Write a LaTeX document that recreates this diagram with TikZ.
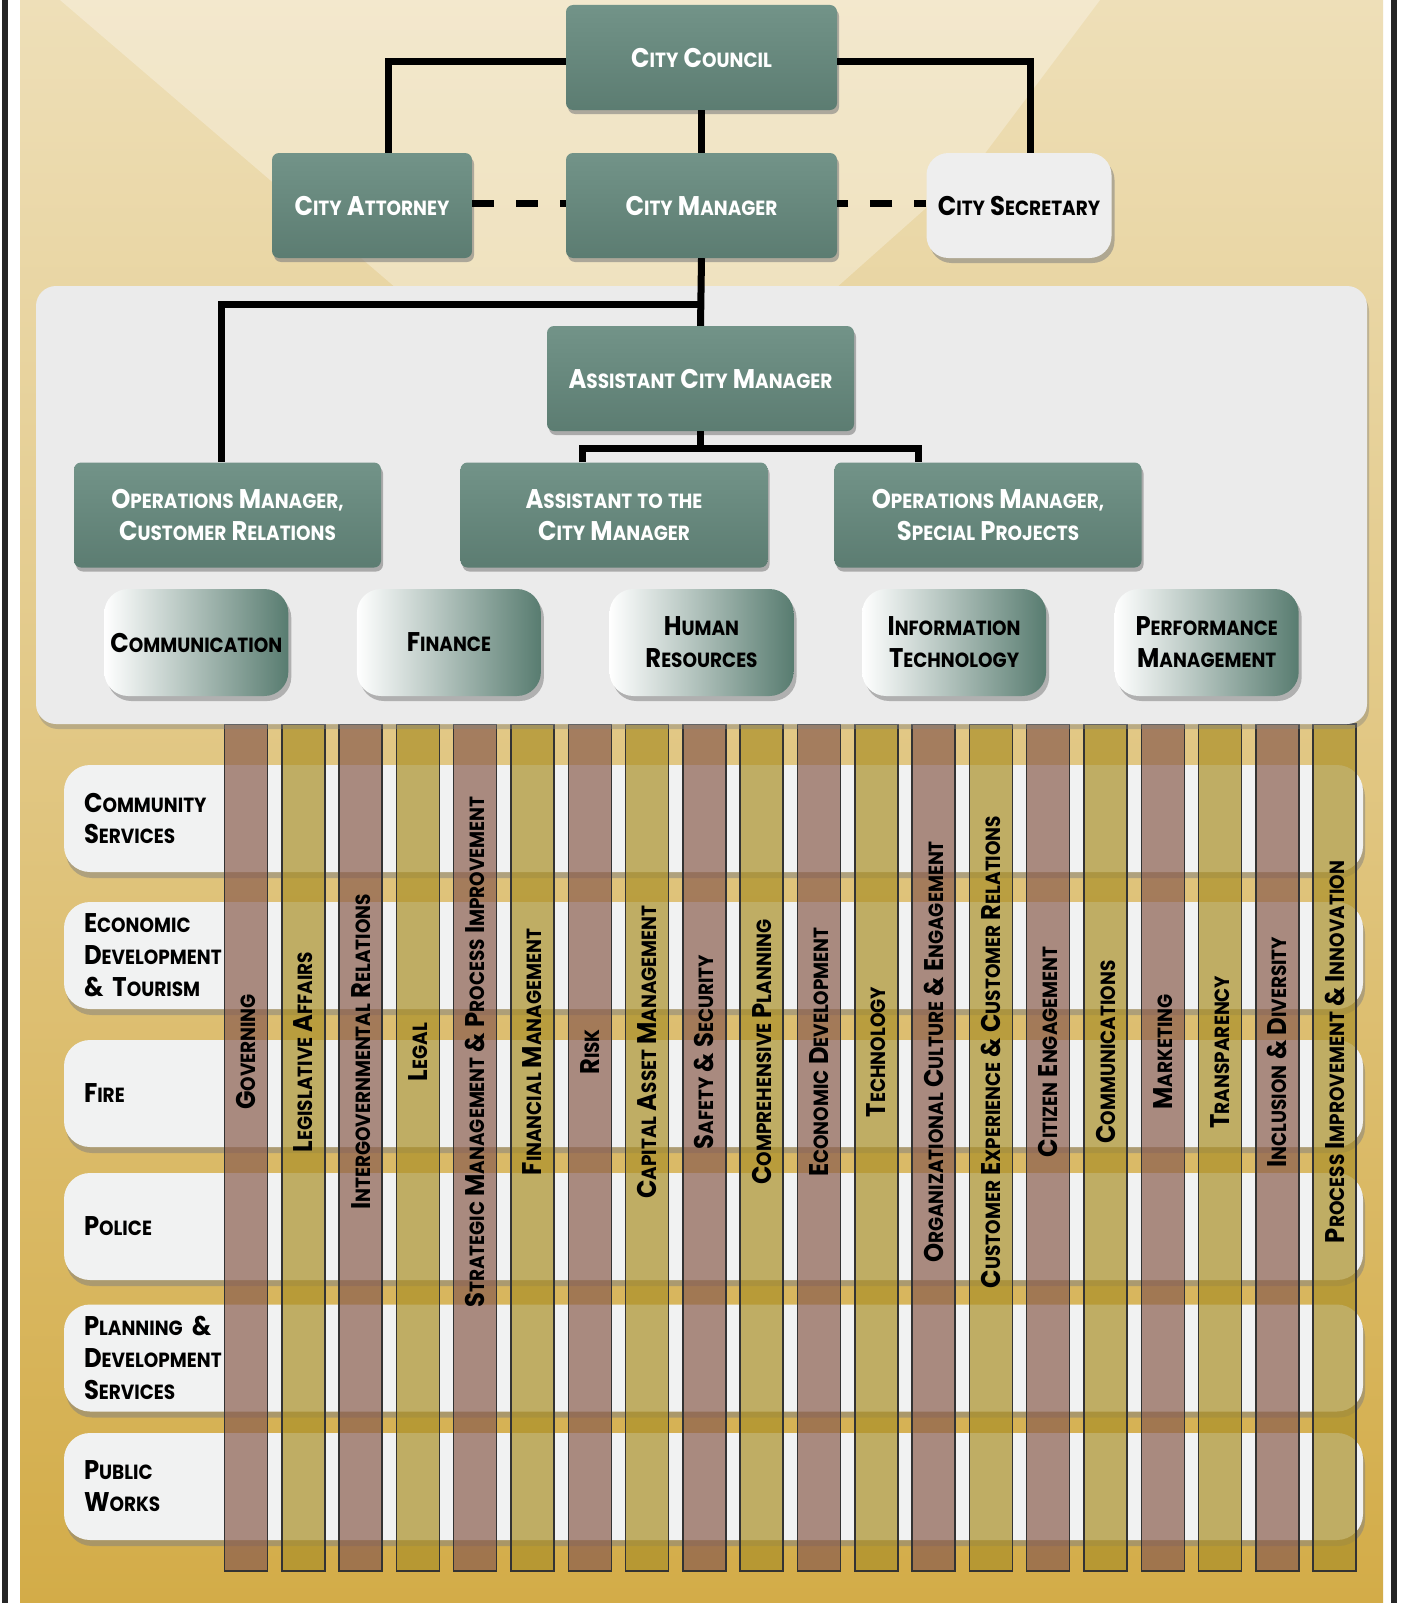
\documentclass[tikz,border=0pt]{standalone}
\usepackage{fontspec}
\setmainfont[FakeStretch=0.9]{Poppins}
\usetikzlibrary{shadows}

\definecolor{boxteal}{HTML}{668A7E}
\definecolor{unitteal}{HTML}{587C70}
\definecolor{panelgray}{HTML}{EBEBEB}
\definecolor{rowgray}{HTML}{F1F2F2}
\definecolor{secgray}{HTML}{EEEEEE}
\definecolor{barbrown}{RGB}{139,94,79}
\definecolor{bargold}{RGB}{171,144,41}
\definecolor{bgtop}{HTML}{EEDFB8}
\definecolor{bgbot}{HTML}{D3AC48}

% fake small caps: first capital full size, rest shrunk
\newcommand\smc[1]{\scalebox{0.76}{\MakeUppercase{#1}}}
\def\scword#1#2\scend{\ifnum\lccode`#1=`#1 \smc{#1#2}\else#1\smc{#2}\fi}
\def\scsplit#1 #2\scstop{\scword#1\scend\ifx\relax#2\relax\else\ \scsplit#2\scstop\fi}
\newcommand\sct[1]{\scsplit#1 \scstop}
\newcommand\sctx[1]{\expandafter\sct\expandafter{#1}}

\begin{document}
\begin{tikzpicture}[x=1pt,y=-1pt,
  lab/.style={font=\fontsize{27}{32}\selectfont\bfseries, align=center, inner sep=0pt},
  mgr/.style={lab, top color=boxteal!92!white, bottom color=boxteal!90!black, text=white,
    rounded corners=7pt, minimum height=105pt,
    drop shadow={shadow xshift=2pt, shadow yshift=-4pt, opacity=.6}},
  sec/.style={lab, fill=secgray, rounded corners=22pt, minimum width=185pt, minimum height=105pt,
    drop shadow={shadow xshift=3pt, shadow yshift=-5pt, opacity=.55}},
  unit/.style={lab, left color=white, right color=unitteal, rounded corners=24pt,
    minimum width=184pt, minimum height=107pt,
    drop shadow={shadow xshift=3pt, shadow yshift=-5pt, opacity=.55}},
  dept/.style={lab, align=left, fill=rowgray, rounded corners=26pt, text width=1259pt,
    inner xsep=20pt, minimum height=107pt,
    drop shadow={shadow xshift=2pt, shadow yshift=-6pt, opacity=.5}},
  bar/.style={draw=black!80, line width=1.5pt, fill opacity=.7, minimum width=43pt, minimum height=847pt},
  link/.style={line width=7pt},
  loose/.style={link, dash pattern=on 22pt off 22pt}]

\useasboundingbox (0,0) rectangle (1400,1603);
\fill[white] (0,0) rectangle (1400,1603);

% background
\shade[top color=bgtop, bottom color=bgbot] (20,0) rectangle (1383,1603);
\fill[white, opacity=.3] (60,0) -- (1100,0) -- (980,160) -- (620,480) -- cycle;
\fill[black!85] (2,0) rectangle (8,1603);
\fill[black!85] (1391,0) rectangle (1397,1603);

% departments
\foreach \yc/\nm/\txt in {818.5/comserv/{\sct{Community}\\\sct{Services}},
    955.5/econdev/{\sct{Economic}\\\sct{Development}\\\sct{\& Tourism}},
    1093.5/fire/{\sct{Fire}},
    1226.5/police/{\sct{Police}},
    1358/planning/{\sct{Planning \&}\\\sct{Development}\\\sct{Services}},
    1486.5/pubworks/{\sct{Public}\\\sct{Works}}}
  \node[dept] (\nm) at (713.5,\yc) {\txt};

% focus areas
\foreach \name [count=\i from 0] in {Governing, Legislative Affairs,
    Intergovernmental Relations, Legal, Strategic Management \& Process Improvement,
    Financial Management, Risk, Capital Asset Management, Safety \& Security,
    Comprehensive Planning, Economic Development, Technology,
    Organizational Culture \& Engagement, Customer Experience \& Customer Relations,
    Citizen Engagement, Communications, Marketing, Transparency,
    Inclusion \& Diversity, Process Improvement \& Innovation} {
  \ifodd\i\relax\def\barcol{bargold}\else\def\barcol{barbrown}\fi
  \node[bar, fill=\barcol] (col-\i) at ({246+57.3*\i},1147.5) {};
  \node[lab, rotate=90] (head-\i) at ({246+57.3*\i},1052) {\sctx{\name}};
}

\fill[panelgray, rounded corners=20pt, drop shadow={shadow xshift=2pt, shadow yshift=-5pt, opacity=.4}]
  (36,286) rectangle (1367,724);

\node[mgr, minimum width=271pt] (council) at (701.5,57.5) {\sct{City Council}};
\node[mgr, minimum width=271pt] (manager) at (701.5,205.5) {\sct{City Manager}};
\node[mgr, minimum width=200pt] (attorney) at (372,205.5) {\sct{City Attorney}};
\node[sec] (secretary) at (1019,205.5) {\sct{City Secretary}};

\node[mgr, minimum width=307pt] (acm) at (700.5,378.5) {\sct{Assistant City Manager}};
\node[mgr, minimum width=307pt] (custops) at (227.5,515) {\sct{Operations Manager,}\\\sct{Customer Relations}};
\node[mgr, minimum width=307pt] (assist) at (614,515) {\sct{Assistant to the}\\\sct{City Manager}};
\node[mgr, minimum width=307pt] (specops) at (988,515) {\sct{Operations Manager,}\\\sct{Special Projects}};

\foreach \k/\nm/\txt in {1/comm/{\sct{Communication}}, 2/fin/{\sct{Finance}},
    3/hr/{\sct{Human}\\\sct{Resources}}, 4/it/{\sct{Information}\\\sct{Technology}},
    5/perf/{\sct{Performance}\\\sct{Management}}}
  \node[unit] (\nm) at ({196.3+252.6*(\k-1)},642.5) {\txt};

\draw[link] ([yshift=-4pt]council.west) -| ([xshift=16pt]attorney.north);
\draw[link] ([yshift=-4pt]council.east) -| ([xshift=11pt]secretary.north);
\draw[link] (council.south) -- (manager.north);
\draw[loose] ([yshift=2pt]attorney.east) -- ([yshift=2pt]manager.west);
\draw[loose, dash phase=10pt] ([yshift=2pt]secretary.west) -- ([yshift=2pt]manager.east);
\draw[link] (manager.south) -- (acm.north);
\draw[link] ([yshift=-46pt]manager.south) -| ([xshift=-6pt]custops.north);
\draw[link] (acm.south) -- ([yshift=-17pt]acm.south);
\draw[link] ([xshift=-32pt]assist.north) |- ([yshift=-17pt]acm.south) -| ([xshift=-70pt]specops.north);

\end{tikzpicture}
\end{document}
